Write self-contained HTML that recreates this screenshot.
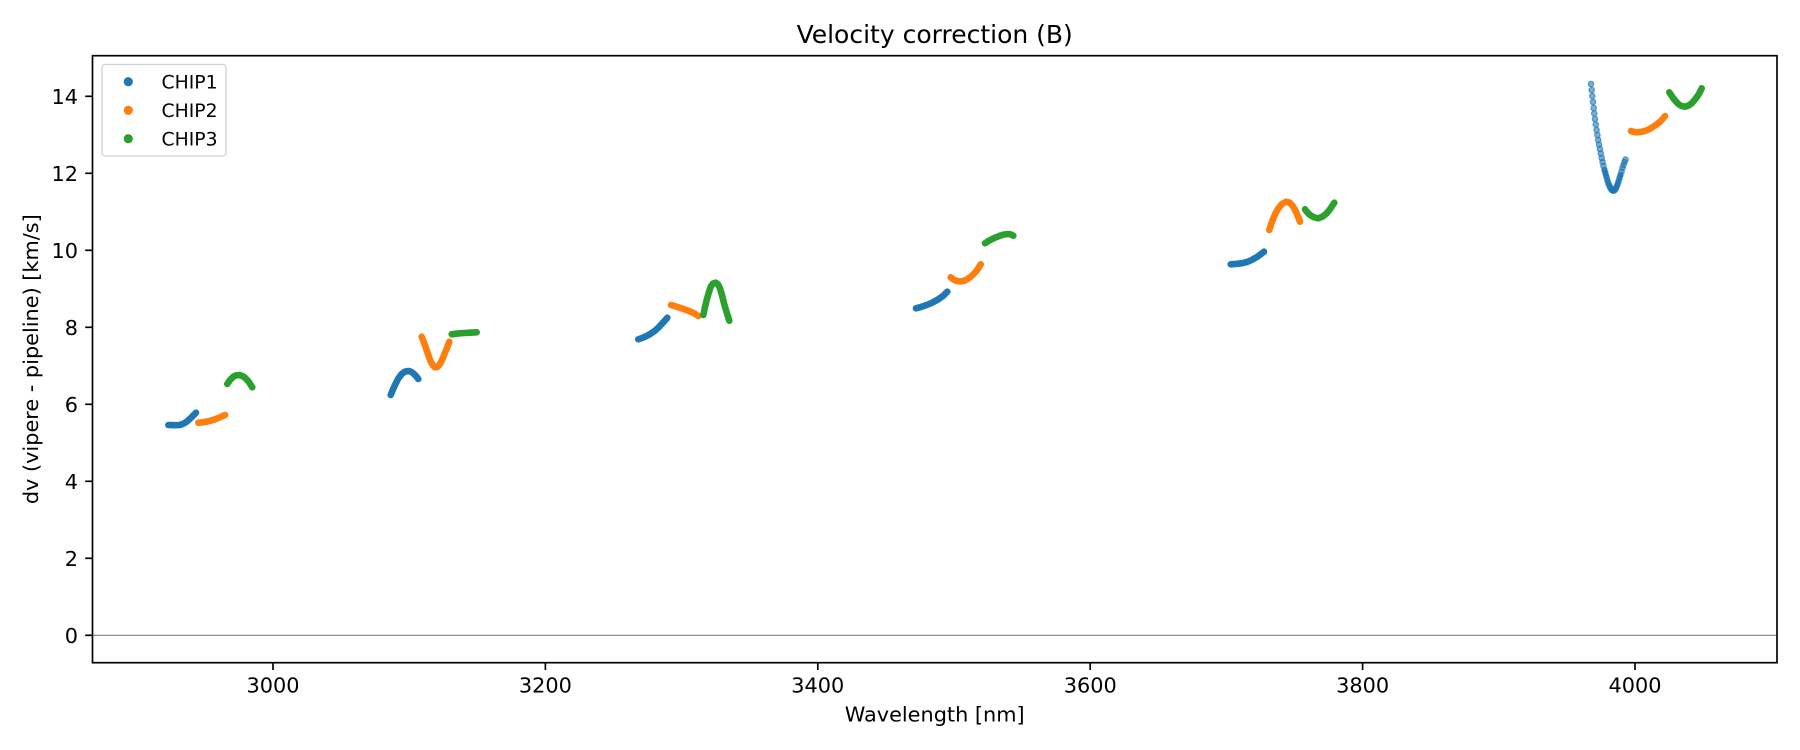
<!DOCTYPE html>
<html>
<head>
<meta charset="utf-8">
<style>
  html, body { margin: 0; padding: 0; background: #ffffff; }
  svg { display: block; }
  text { font-family: "DejaVu Sans", "Liberation Sans", sans-serif; fill: #000; }
</style>
</head>
<body>
<svg width="1800" height="750" viewBox="0 0 1800 750" xmlns="http://www.w3.org/2000/svg">
  <rect x="0" y="0" width="1800" height="750" fill="#ffffff"/>

  <!-- Title -->
  <text x="934.7" y="43" font-size="25" text-anchor="middle">Velocity correction (B)</text>

  <!-- zero line -->
  <line x1="93" y1="635.3" x2="1776.5" y2="635.3" stroke="#808080" stroke-width="1.2"/>

  <!-- Series: stroke-based curves -->
  <g fill="none" stroke-linecap="round" stroke-linejoin="round" stroke-width="6.6">
    <!-- Group 1 -->
    <polyline stroke="#1f77b4" points="168.3,425 174,425.2 180,425 183.5,423.6 186.7,421.7 191,417.8 196,412.7"/>
    <polyline stroke="#ff7f0e" points="198.3,422.7 202.5,422.3 206.7,421.7 211,420.6 215,419.3 220,417.3 225,415"/>
    <polyline stroke="#2ca02c" points="227.3,384 230,380 233.3,376.7 236,375.4 239,375 242,375.8 245,377.7 248.5,381.5 252.3,387.3"/>

    <!-- Group 2 -->
    <polyline stroke="#1f77b4" points="390.7,395 392.7,390 395,385 398,379 401.7,374 405,371.6 408.3,371 411,371.7 413.3,373.3 416,376 418.3,379"/>
    <polyline stroke="#ff7f0e" points="421.7,336.7 424,342.5 426,348.3 428.5,355.5 430.7,361.7 433,365.5 435,367.3 437.3,367 439.3,365 441.8,360.5 444,355 446.8,348.5 449.3,341.7"/>
    <polyline stroke="#2ca02c" points="451.7,334.3 456,333.7 460,333.3 465,333 470,332.7 476.7,332.3"/>

    <!-- Group 3 -->
    <polyline stroke="#1f77b4" points="638.3,339.3 642.5,337.8 646.7,336 651,333.5 655,330.7 658.5,327.5 661.7,324 664.5,321 667.3,317.7"/>
    <polyline stroke="#ff7f0e" points="671,305 674.5,306 678.3,307.3 683.5,309 688.3,310.7 693.5,313 698.3,316"/>
    <polyline stroke="#2ca02c" points="703.3,315 705,307 706.7,300 708.7,292.8 710.7,286.7 713,283.5 715.7,282.7 718,284.3 720,288.3 722,295 724,303.3 726.7,312.5 729.3,320.7"/>

    <!-- Group 4 -->
    <polyline stroke="#1f77b4" points="916,308.3 921.5,306.8 926.7,305 932.5,302.5 938.3,299.3 943,296 947.3,291.7"/>
    <polyline stroke="#ff7f0e" points="950.7,277.3 953.5,279.5 956.7,281 960,281.4 963.3,281 966.8,279.6 970,277.3 973.5,274.2 976.7,270.7 980.7,264.3"/>
    <polyline stroke="#2ca02c" points="985,243.3 988.3,241.1 991.7,239.3 996,237.3 1000,235.7 1004,234.5 1008.3,234 1011,234.5 1013.3,235.7"/>

    <!-- Group 5 -->
    <polyline stroke="#1f77b4" points="1230.7,264.3 1236,263.9 1241.7,263.3 1247,262 1251.7,260 1258,256.3 1264,251.7"/>
    <polyline stroke="#ff7f0e" points="1269.3,230 1271.2,224 1273.3,218.3 1275.7,213 1278.3,208.3 1282,204 1286,201.7 1289.8,202.7 1293.3,206.7 1296.8,213.5 1300,221.7"/>
    <polyline stroke="#2ca02c" points="1305,209.3 1307.5,212.5 1310,215 1314,217.3 1318.3,218.3 1322.5,216.7 1326.7,213.3 1330.5,208.5 1334.3,202.7"/>

    <!-- Group 6 (orange/green) -->
    <polyline stroke="#ff7f0e" points="1631,131 1633.8,132 1636.7,132.3 1641,131.9 1645,131 1649.2,129.2 1653.3,126.7 1656.8,124.3 1660,121.7 1662.6,119 1665,116"/>
    <polyline stroke="#2ca02c" points="1669.3,92.3 1671.3,95.3 1673.3,98.3 1675.8,101.3 1678.3,104 1681.5,106 1685,106.7 1688.5,105.6 1691.7,103.3 1695,99.5 1698.3,95 1700,91.8 1701.7,88.3"/>
  </g>

  <!-- Group 6 blue: sparse scatter dots with alpha -->
  <g fill="#1f77b4" fill-opacity="0.6" stroke="#1f77b4" stroke-opacity="0.7" stroke-width="1">
    <circle cx="1591" cy="84" r="2.8"/>
    <circle cx="1591.7" cy="90" r="2.8"/>
    <circle cx="1592.3" cy="96" r="2.8"/>
    <circle cx="1593" cy="102" r="2.8"/>
    <circle cx="1593.7" cy="108" r="2.8"/>
    <circle cx="1594.3" cy="113.5" r="2.8"/>
    <circle cx="1595" cy="119" r="2.8"/>
    <circle cx="1595.8" cy="124.5" r="2.8"/>
    <circle cx="1596.6" cy="130" r="2.8"/>
    <circle cx="1597.4" cy="135" r="2.8"/>
    <circle cx="1598.2" cy="140" r="2.8"/>
    <circle cx="1599" cy="144.5" r="2.8"/>
    <circle cx="1599.9" cy="149" r="2.8"/>
    <circle cx="1600.8" cy="153.5" r="2.8"/>
    <circle cx="1601.7" cy="158" r="2.8"/>
    <circle cx="1602.6" cy="162" r="2.8"/>
    <circle cx="1603.5" cy="166" r="2.8"/>
    <circle cx="1604.5" cy="170" r="2.8"/>
    <circle cx="1605.5" cy="173.5" r="2.8"/>
    <circle cx="1606.5" cy="177" r="2.8"/>
    <circle cx="1607.5" cy="180.5" r="2.8"/>
    <circle cx="1608.5" cy="183.5" r="2.8"/>
    <circle cx="1609.5" cy="186" r="2.8"/>
    <circle cx="1610.5" cy="188" r="2.8"/>
    <circle cx="1611.5" cy="189.5" r="2.8"/>
    <circle cx="1612.5" cy="190.5" r="2.8"/>
    <circle cx="1613.5" cy="190.7" r="2.8"/>
    <circle cx="1614.5" cy="190.3" r="2.8"/>
    <circle cx="1615.5" cy="189" r="2.8"/>
    <circle cx="1616.5" cy="187" r="2.8"/>
    <circle cx="1617.5" cy="184.5" r="2.8"/>
    <circle cx="1618.5" cy="181.5" r="2.8"/>
    <circle cx="1619.5" cy="178" r="2.8"/>
    <circle cx="1620.5" cy="175" r="2.8"/>
    <circle cx="1621.5" cy="171.5" r="2.8"/>
    <circle cx="1622.5" cy="168" r="2.8"/>
    <circle cx="1623.5" cy="165" r="2.8"/>
    <circle cx="1624.5" cy="162" r="2.8"/>
    <circle cx="1625.5" cy="159.5" r="2.8"/>
  </g>
  <polyline fill="none" stroke="#1f77b4" stroke-opacity="0.8" stroke-width="5" stroke-linecap="round" stroke-linejoin="round"
    points="1604.5,170 1606.5,177 1608.5,183.5 1610.5,188 1612.5,190.5 1614.5,190.3 1616.5,187 1618.5,181.5 1620.5,175"/>

  <!-- Axes frame -->
  <rect x="92.5" y="55.7" width="1684.5" height="607" fill="none" stroke="#000" stroke-width="1.67"/>

  <!-- Y ticks -->
  <g stroke="#000" stroke-width="1.67">
    <line x1="85.2" y1="635.3" x2="92.5" y2="635.3"/>
    <line x1="85.2" y1="558.3" x2="92.5" y2="558.3"/>
    <line x1="85.2" y1="481.3" x2="92.5" y2="481.3"/>
    <line x1="85.2" y1="404.3" x2="92.5" y2="404.3"/>
    <line x1="85.2" y1="327.3" x2="92.5" y2="327.3"/>
    <line x1="85.2" y1="250.3" x2="92.5" y2="250.3"/>
    <line x1="85.2" y1="173.3" x2="92.5" y2="173.3"/>
    <line x1="85.2" y1="96.3" x2="92.5" y2="96.3"/>
  </g>
  <g font-size="20.83" text-anchor="end">
    <text x="78" y="642.9">0</text>
    <text x="78" y="565.9">2</text>
    <text x="78" y="488.9">4</text>
    <text x="78" y="411.9">6</text>
    <text x="78" y="334.9">8</text>
    <text x="78" y="257.9">10</text>
    <text x="78" y="180.9">12</text>
    <text x="78" y="103.9">14</text>
  </g>

  <!-- X ticks -->
  <g stroke="#000" stroke-width="1.67">
    <line x1="273" y1="662.7" x2="273" y2="670"/>
    <line x1="545.4" y1="662.7" x2="545.4" y2="670"/>
    <line x1="817.8" y1="662.7" x2="817.8" y2="670"/>
    <line x1="1090.2" y1="662.7" x2="1090.2" y2="670"/>
    <line x1="1362.6" y1="662.7" x2="1362.6" y2="670"/>
    <line x1="1635" y1="662.7" x2="1635" y2="670"/>
  </g>
  <g font-size="20.83" text-anchor="middle">
    <text x="273" y="692.5">3000</text>
    <text x="545.4" y="692.5">3200</text>
    <text x="817.8" y="692.5">3400</text>
    <text x="1090.2" y="692.5">3600</text>
    <text x="1362.6" y="692.5">3800</text>
    <text x="1635" y="692.5">4000</text>
  </g>

  <!-- Axis labels -->
  <text x="934.7" y="721.7" font-size="20.83" text-anchor="middle">Wavelength [nm]</text>
  <text transform="translate(37.8,359.2) rotate(-90)" x="0" y="0" font-size="20.83" text-anchor="middle">dv (vipere - pipeline) [km/s]</text>

  <!-- Legend -->
  <rect x="102" y="64.5" width="124" height="91.5" rx="3" ry="3" fill="#ffffff" fill-opacity="0.8" stroke="#d0d0d0" stroke-width="1.3"/>
  <circle cx="128.3" cy="81.7" r="4.6" fill="#1f77b4"/>
  <circle cx="128.3" cy="110.3" r="4.6" fill="#ff7f0e"/>
  <circle cx="128.3" cy="138.7" r="4.6" fill="#2ca02c"/>
  <g font-size="18.8">
    <text x="161.5" y="88.5">CHIP1</text>
    <text x="161.5" y="117.1">CHIP2</text>
    <text x="161.5" y="145.5">CHIP3</text>
  </g>
</svg>
</body>
</html>
